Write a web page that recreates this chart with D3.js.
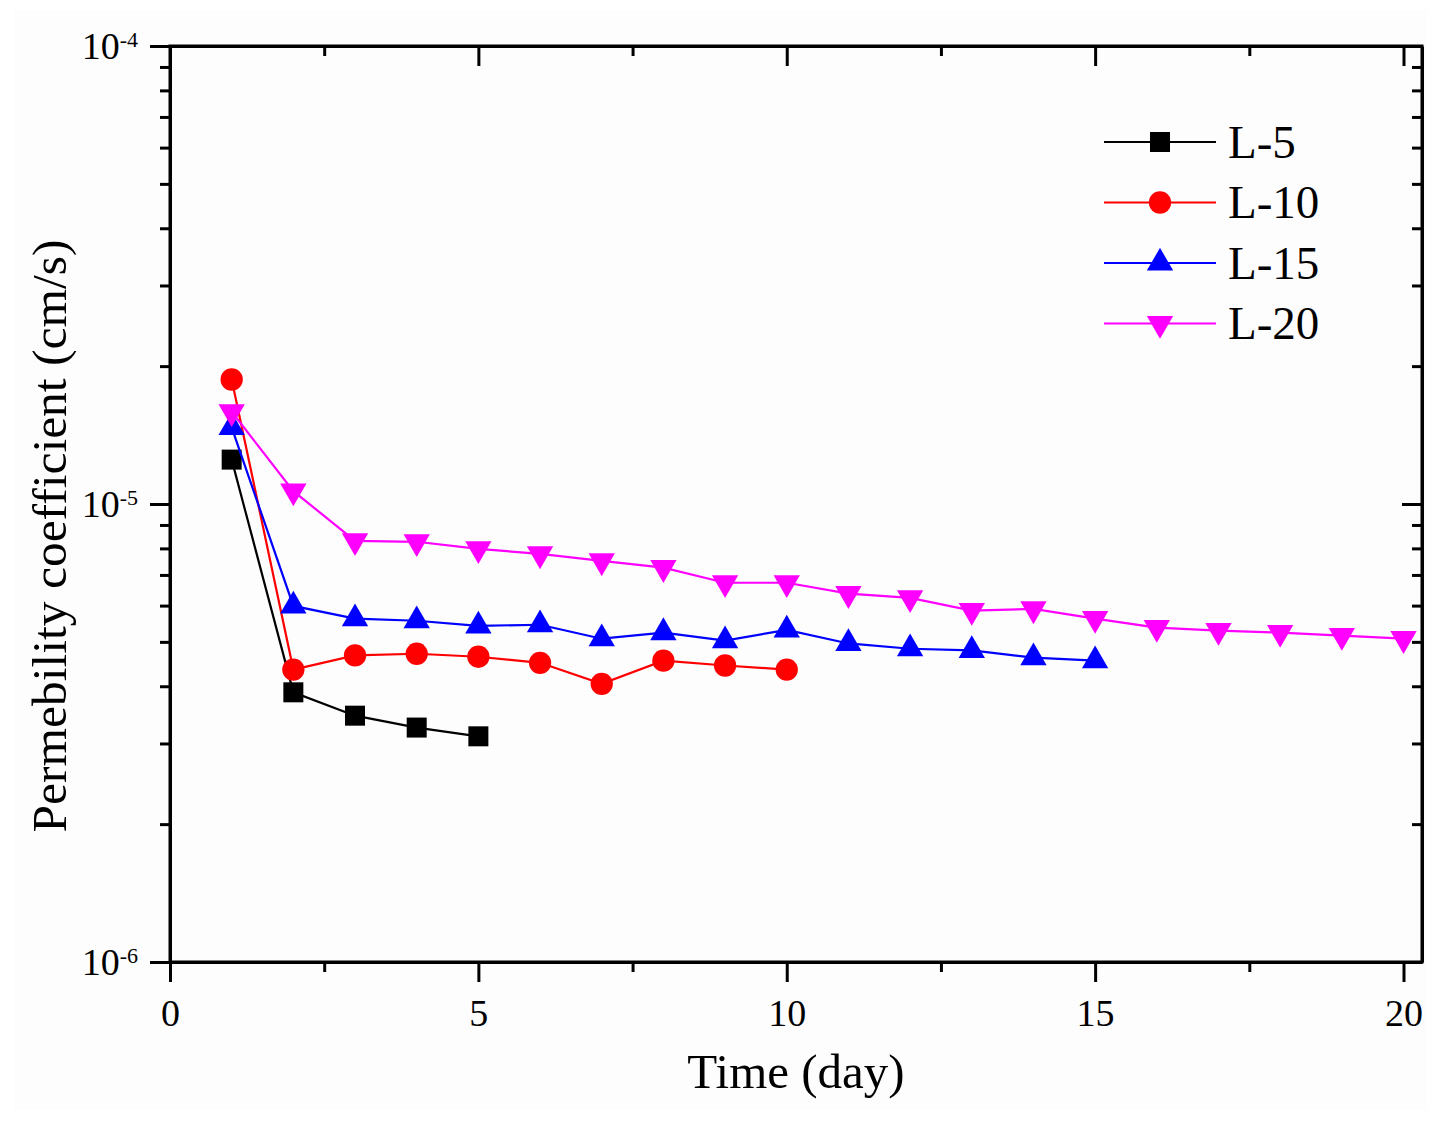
<!DOCTYPE html>
<html>
<head>
<meta charset="utf-8">
<script src="https://cdn.jsdelivr.net/npm/d3@7"></script>
<style>
  body { margin: 0; background: #ffffff; }
  svg { display: block; font-family: "Liberation Serif", "Times New Roman", serif; }
  .axis path, .axis line { stroke: #000; stroke-width: 3; }
  .axis text { font-size: 38px; fill: #000; font-family: "Liberation Serif", serif; }
</style>
</head>
<body>
<div id="chart"></div>
<script>
// Series values (days 1..n)
const seriesNames = ['L-5', 'L-10', 'L-15', 'L-20'];
const seriesColors = ['#000000', '#ff0000', '#0000ff', '#ff00ff'];
const seriesSymbols = ['square', 'circle', 'triangle', 'triangleDown'];

const daysL5 = [1, 2, 3, 4, 5];
const valuesL5 = [1.25e-5, 3.88e-6, 3.45e-6, 3.25e-6, 3.11e-6];

const daysL10 = [1, 2, 3, 4, 5, 6, 7, 8, 9, 10];
const valuesL10 = [1.87e-5, 4.35e-6, 4.67e-6, 4.71e-6, 4.64e-6, 4.50e-6, 4.05e-6, 4.55e-6, 4.44e-6, 4.35e-6];

const daysL15 = [1, 2, 3, 4, 5, 6, 7, 8, 9, 10, 11, 12, 13, 14, 15];
const valuesL15 = [1.47e-5, 5.99e-6, 5.62e-6, 5.56e-6, 5.42e-6, 5.45e-6, 5.08e-6, 5.24e-6, 5.03e-6, 5.31e-6,
                   4.96e-6, 4.83e-6, 4.79e-6, 4.62e-6, 4.55e-6];

const daysL20 = [1, 2, 3, 4, 5, 6, 7, 8, 9, 10, 11, 12, 13, 14, 15, 16, 17, 18, 19, 20];
const valuesL20 = [1.59e-5, 1.067e-5, 8.31e-6, 8.27e-6, 7.98e-6, 7.78e-6, 7.51e-6, 7.26e-6, 6.73e-6, 6.73e-6,
                   6.37e-6, 6.24e-6, 5.85e-6, 5.90e-6, 5.62e-6, 5.37e-6, 5.29e-6, 5.24e-6, 5.16e-6, 5.08e-6];

const xMajorTicks = [0, 5, 10, 15, 20];
const xMinorTicks = [2.5, 7.5, 12.5, 17.5];
const yMajorTicks = [1e-6, 1e-5, 1e-4];
const yMinorTicks = [2e-6, 3e-6, 4e-6, 5e-6, 6e-6, 7e-6, 8e-6, 9e-6, 2e-5, 3e-5, 4e-5, 5e-5, 6e-5, 7e-5, 8e-5, 9e-5];

const xLabel = 'Time (day)';
const yLabel = 'Permebility coefficient (cm/s)';

const width = 1441;
const height = 1128;
const plot = { left: 170, right: 1422, top: 46, bottom: 962 };

const allSeries = [
  { days: daysL5, values: valuesL5 },
  { days: daysL10, values: valuesL10 },
  { days: daysL15, values: valuesL15 },
  { days: daysL20, values: valuesL20 }
].map((s, i) => ({
  name: seriesNames[i],
  color: seriesColors[i],
  symbol: seriesSymbols[i],
  points: s.days.map((d, j) => ({ x: d, y: s.values[j] }))
}));

const svg = d3.select('#chart').append('svg')
  .attr('width', width)
  .attr('height', height);

svg.append('rect')
  .attr('x', 14).attr('y', 10)
  .attr('width', width - 28).attr('height', height - 28)
  .attr('fill', '#fdfdfd');

const x = d3.scaleLinear().domain([0, 20.3]).range([plot.left, plot.right]);
const y = d3.scaleLog().domain([1e-6, 1e-4]).range([plot.bottom, plot.top]);

// minor ticks first (no domain line)
function minor(axis, sel) {
  sel.call(axis).call(g => g.select('.domain').remove());
}

minor(d3.axisBottom(x).tickValues(xMinorTicks).tickSize(10).tickFormat(''),
  svg.append('g').attr('class', 'axis').attr('transform', `translate(0,${plot.bottom})`));
minor(d3.axisTop(x).tickValues(xMinorTicks).tickSize(-10).tickFormat(''),
  svg.append('g').attr('class', 'axis').attr('transform', `translate(0,${plot.top})`));
minor(d3.axisLeft(y).tickValues(yMinorTicks).tickSize(10).tickFormat(''),
  svg.append('g').attr('class', 'axis').attr('transform', `translate(${plot.left},0)`));
minor(d3.axisRight(y).tickValues(yMinorTicks).tickSize(-10).tickFormat(''),
  svg.append('g').attr('class', 'axis').attr('transform', `translate(${plot.right},0)`));

// major ticks with axis lines
svg.append('g').attr('class', 'axis')
  .attr('transform', `translate(0,${plot.bottom})`)
  .call(d3.axisBottom(x).tickValues(xMajorTicks).tickSize(20).tickSizeOuter(0).tickPadding(17).tickFormat(d3.format('d')));

svg.append('g').attr('class', 'axis')
  .attr('transform', `translate(0,${plot.top})`)
  .call(d3.axisTop(x).tickValues(xMajorTicks).tickSize(-20).tickSizeOuter(0).tickFormat(''));

const yAxisLeft = svg.append('g').attr('class', 'axis')
  .attr('transform', `translate(${plot.left},0)`)
  .call(d3.axisLeft(y).tickValues(yMajorTicks).tickSize(20).tickSizeOuter(0).tickPadding(12));

// relabel as 10 with a raised exponent
yAxisLeft.selectAll('.tick text').each(function(d) {
  const t = d3.select(this).text('');
  t.append('tspan').text('10');
  t.append('tspan').attr('dy', '-0.55em').style('font-size', '22px')
    .text(String(Math.round(Math.log10(d))));
});

svg.append('g').attr('class', 'axis')
  .attr('transform', `translate(${plot.right},0)`)
  .call(d3.axisRight(y).tickValues(yMajorTicks).tickSize(-20).tickSizeOuter(0).tickFormat(''));

// close the frame
svg.append('path')
  .attr('d', `M${plot.left},${plot.top}H${plot.right}V${plot.bottom}H${plot.left}Z`)
  .attr('fill', 'none').attr('stroke', '#000').attr('stroke-width', 3);

// series
const line = d3.line().x(d => x(d.x)).y(d => y(d.y));

const symbolTypes = {
  square: { type: d3.symbolSquare, size: 400, rotate: 0 },
  circle: { type: d3.symbolCircle, size: 390, rotate: 0 },
  triangle: { type: d3.symbolTriangle, size: 300, rotate: 0 },
  triangleDown: { type: d3.symbolTriangle, size: 300, rotate: 180 }
};

function symbolPath(name) {
  return d3.symbol().type(symbolTypes[name].type).size(symbolTypes[name].size)();
}

allSeries.forEach(s => {
  const g = svg.append('g');
  g.append('path')
    .datum(s.points)
    .attr('d', line)
    .attr('fill', 'none')
    .attr('stroke', s.color)
    .attr('stroke-width', 2.2);
  g.selectAll('path.marker')
    .data(s.points)
    .join('path')
    .attr('class', 'marker')
    .attr('d', symbolPath(s.symbol))
    .attr('transform', d => `translate(${x(d.x)},${y(d.y)}) rotate(${symbolTypes[s.symbol].rotate})`)
    .attr('fill', s.color);
});

// legend
const legend = svg.append('g').attr('transform', 'translate(1104,142)');
allSeries.forEach((s, i) => {
  const row = legend.append('g').attr('transform', `translate(0,${i * 60.5})`);
  row.append('line')
    .attr('x1', 0).attr('x2', 112)
    .attr('stroke', s.color).attr('stroke-width', 2.2);
  row.append('path')
    .attr('d', symbolPath(s.symbol))
    .attr('transform', `translate(56,0) rotate(${symbolTypes[s.symbol].rotate})`)
    .attr('fill', s.color);
  row.append('text')
    .attr('x', 124).attr('dy', '0.33em')
    .style('font-size', '47px')
    .text(s.name);
});

// axis titles
svg.append('text')
  .attr('x', 796)
  .attr('y', 1088)
  .attr('text-anchor', 'middle')
  .style('font-size', '49px')
  .text(xLabel);

svg.append('text')
  .attr('transform', 'translate(66,536) rotate(-90)')
  .attr('text-anchor', 'middle')
  .style('font-size', '49.5px')
  .text(yLabel);
</script>
</body>
</html>
